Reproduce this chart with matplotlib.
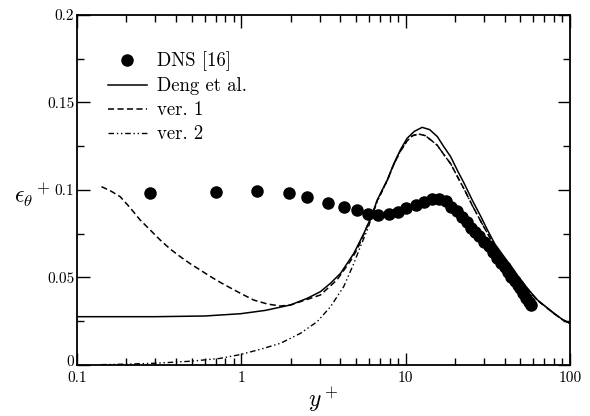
import matplotlib
matplotlib.use("Agg")
import matplotlib.pyplot as plt
from matplotlib.ticker import FixedLocator, FixedFormatter, LogLocator, MultipleLocator, NullFormatter
from matplotlib.transforms import ScaledTranslation

plt.rcParams["font.family"] = ["cmr10", "DejaVu Serif"]
plt.rcParams["mathtext.fontset"] = "cm"
plt.rcParams["axes.unicode_minus"] = False

# DNS data
dns_y = [0.28, 0.70, 1.25, 1.94, 2.52, 3.36, 4.2, 5.03, 5.89, 6.82, 7.91, 8.98,
         10.1, 11.5, 12.9, 14.5, 16.0, 17.5, 19.0, 20.5, 22.0, 23.5, 25.0, 26.5,
         28.0, 30.0, 32.0, 34.0, 36.0, 38.0, 40.0, 42.0, 44.0, 46.0, 48.0, 50.0,
         52.0, 54.0, 56.0, 58.0]
dns_eps = [0.0985, 0.0990, 0.0994, 0.0981, 0.0958, 0.0927, 0.0905, 0.0886, 0.0863,
           0.0859, 0.0863, 0.0876, 0.0895, 0.0914, 0.0933, 0.0947, 0.0950, 0.0935,
           0.0905, 0.0880, 0.0848, 0.0815, 0.0785, 0.0758, 0.0735, 0.0705, 0.0680,
           0.0645, 0.0612, 0.0585, 0.0558, 0.0530, 0.0505, 0.0480, 0.0457, 0.0438,
           0.0410, 0.0385, 0.0362, 0.0343]

# Deng et al. model
deng_y = [0.1, 0.3, 0.6, 0.99, 1.4, 1.99, 2.52, 3.03, 3.49, 4.02, 4.84, 5.57, 6.2,
          6.72, 7.73, 8.49, 9.3, 10.2, 11.3, 12.6, 14.0, 15.6, 17.0, 18.8, 20.7,
          22.7, 25.5, 28.7, 31.5, 35.0, 39.7, 45.0, 50.2, 56.0, 63.5, 72.0, 80.2,
          90.0, 100.0]
deng_eps = [0.0276, 0.0276, 0.0280, 0.0293, 0.0312, 0.0343, 0.0381, 0.0419, 0.0467,
            0.0524, 0.0638, 0.0752, 0.0850, 0.0943, 0.1057, 0.1152, 0.1230, 0.1295,
            0.1335, 0.1358, 0.1345, 0.1305, 0.1250, 0.1190, 0.1110, 0.1038, 0.0940,
            0.0848, 0.0771, 0.0690, 0.0619, 0.0550, 0.0486, 0.0430, 0.0371, 0.0330,
            0.0295, 0.0260, 0.0238]

# ver. 1
v1_y = [0.141, 0.16, 0.183, 0.21, 0.242, 0.28, 0.321, 0.37, 0.425, 0.49, 0.562,
        0.65, 0.745, 0.86, 0.986, 1.19, 1.45, 1.73, 2.0, 2.29, 3.03, 3.82, 4.62,
        5.1, 5.57, 6.2, 6.72, 7.73, 8.49, 9.3, 10.2, 11.0, 12.0, 13.2, 14.5, 15.6,
        17.0, 18.8, 20.7, 22.7, 25.5, 28.7, 31.5, 35.0, 39.7, 45.0, 50.2, 56.0,
        63.5, 72.0, 80.2, 90.0, 100.0]
v1_eps = [0.1019, 0.0995, 0.0962, 0.0900, 0.0829, 0.0770, 0.0714, 0.0662, 0.0619,
          0.0578, 0.0543, 0.0505, 0.0472, 0.0440, 0.0410, 0.0371, 0.0348, 0.0337,
          0.0343, 0.0362, 0.0400, 0.0486, 0.0595, 0.0665, 0.0748, 0.0850, 0.0940,
          0.1055, 0.1148, 0.1222, 0.1280, 0.1310, 0.1320, 0.1310, 0.1280, 0.1255,
          0.1205, 0.1150, 0.1075, 0.1005, 0.0910, 0.0820, 0.0752, 0.0675, 0.0605,
          0.0540, 0.0480, 0.0427, 0.0369, 0.0328, 0.0293, 0.0259, 0.0237]

# ver. 2
v2_y = [0.14, 0.2, 0.3, 0.5, 0.745, 0.99, 1.31, 1.73, 2.29, 2.9, 3.49, 4.2, 4.84,
        5.3, 5.84, 6.72, 7.73, 8.49, 9.3, 10.2, 11.0, 12.0, 13.2, 14.5, 15.6, 17.0,
        18.8, 20.7, 22.7, 25.5, 28.7, 31.5, 35.0, 39.7, 45.0, 50.2, 56.0, 63.5,
        72.0, 80.2, 90.0, 100.0]
v2_eps = [0.0002, 0.0005, 0.0010, 0.0022, 0.0038, 0.0060, 0.0090, 0.0124, 0.0181,
          0.0248, 0.0333, 0.0448, 0.0580, 0.0676, 0.0771, 0.0935, 0.1053, 0.1148,
          0.1222, 0.1280, 0.1310, 0.1320, 0.1310, 0.1280, 0.1255, 0.1205, 0.1150,
          0.1075, 0.1005, 0.0910, 0.0820, 0.0752, 0.0675, 0.0605, 0.0540, 0.0480,
          0.0427, 0.0369, 0.0328, 0.0293, 0.0259, 0.0237]

x_ticks = [0.1, 1, 10, 100]
x_labels = ["0.1", "1", "10", "100"]
y_ticks = [0, 0.05, 0.1, 0.15, 0.2]
y_labels = ["0", "0.05", "0.1", "0.15", "0.2"]

fig = plt.figure(figsize=(5.9, 4.16), dpi=100)
ax = fig.add_axes([0.1305, 0.1226, 0.8355, 0.8414])

ax.plot(dns_y, dns_eps, "o", color="black", markersize=8, label="DNS [16]", zorder=4)
ax.plot(deng_y, deng_eps, "-", color="black", lw=1.1, label="Deng et al.")
ax.plot(v1_y, v1_eps, color="black", lw=1.1, dashes=(4, 2.2), label="ver. 1")
ax.plot(v2_y, v2_eps, color="black", lw=1.0, dashes=(4, 2, 1, 2, 1, 2), label="ver. 2")

ax.set_xscale("log")
ax.set_xlim(0.1, 100)
ax.set_ylim(0, 0.2)

ax.xaxis.set_major_locator(FixedLocator(x_ticks))
ax.xaxis.set_major_formatter(FixedFormatter(x_labels))
ax.xaxis.set_minor_locator(LogLocator(base=10, subs=range(2, 10)))
ax.xaxis.set_minor_formatter(NullFormatter())
ax.yaxis.set_major_locator(FixedLocator(y_ticks))
ax.yaxis.set_major_formatter(FixedFormatter(y_labels))
ax.yaxis.set_minor_locator(MultipleLocator(0.025))

ax.tick_params(which="both", direction="in", top=True, right=True, labelsize=11, width=1.0)
ax.tick_params(which="major", length=9)
ax.tick_params(which="minor", length=5)
ax.tick_params(axis="x", which="major", pad=4.5)
ax.tick_params(axis="y", which="major", pad=2)
for spine in ax.spines.values():
    spine.set_linewidth(1.3)

ax.set_xlabel(r"$y^+$", fontsize=17, labelpad=0)
ax.set_ylabel(r"$\epsilon_\theta{}^+$", fontsize=17, rotation=0, va="center")
ax.yaxis.set_label_coords(-0.09, 0.485)

ax.legend(loc="upper left", bbox_to_anchor=(0.048, 0.918), frameon=False, fontsize=13.5,
          handlelength=2.05, handletextpad=0.57, labelspacing=0.33, borderaxespad=0.0)

# lift the "0" label a little so it clears the "0.1" below it
fig.canvas.draw()
zero_label = ax.yaxis.get_majorticklabels()[0]
zero_label.set_transform(zero_label.get_transform() + ScaledTranslation(0, 3 / 72, fig.dpi_scale_trans))

fig.savefig("out.png", dpi=100)
